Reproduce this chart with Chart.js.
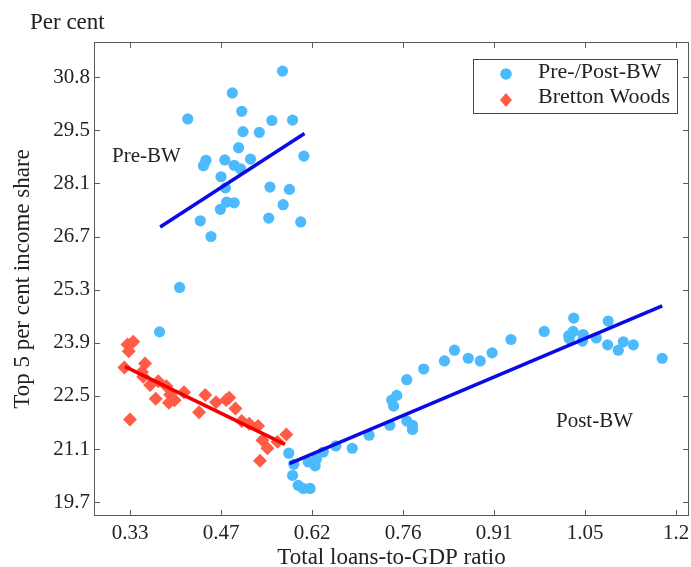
<!DOCTYPE html>
<html>
<head>
<meta charset="utf-8">
<script src="https://cdn.jsdelivr.net/npm/chart.js@4.4.1/dist/chart.umd.min.js"></script>
<style>
  html, body { margin: 0; padding: 0; background: #fff; }
  #wrap { width: 691px; height: 567px; position: relative; }
</style>
</head>
<body>
<div id="wrap"><canvas id="chart"></canvas></div>
<script>
// Pre-Bretton Woods years (upper cluster)
const preX = [0.573, 0.493, 0.422, 0.508, 0.556, 0.589, 0.510, 0.536, 0.503, 0.451,
              0.447, 0.481, 0.496, 0.506, 0.522, 0.607, 0.475, 0.482, 0.553, 0.584,
              0.484, 0.496, 0.474, 0.574, 0.442, 0.551, 0.602, 0.459, 0.409, 0.377];
const preY = [30.96, 30.39, 29.71, 29.91, 29.67, 29.68, 29.38, 29.36, 28.96, 28.63,
              28.49, 28.64, 28.50, 28.41, 28.66, 28.74, 28.20, 27.91, 27.93, 27.87,
              27.54, 27.52, 27.35, 27.47, 27.05, 27.12, 27.02, 26.64, 25.31, 24.15];

// Post-Bretton Woods years
const postX = [0.583, 0.591, 0.589, 0.598, 0.606, 0.617, 0.614, 0.625, 0.627, 0.638,
               0.658, 0.684, 0.711, 0.744, 0.750, 0.747, 0.755, 0.771, 0.780, 0.780,
               0.771, 0.798, 0.831, 0.847, 0.869, 0.888, 0.907, 0.937, 0.990, 1.029,
               1.030, 1.036, 1.037, 1.052, 1.051, 1.073, 1.092, 1.091, 1.108, 1.116,
               1.132, 1.178];
const postY = [20.98, 20.69, 20.40, 20.14, 20.06, 20.06, 20.75, 20.65, 20.82, 21.01,
               21.17, 21.11, 21.45, 21.71, 22.21, 22.37, 22.49, 21.82, 21.71, 21.60,
               22.90, 23.18, 23.39, 23.67, 23.46, 23.39, 23.60, 23.95, 24.16, 24.05,
               23.97, 24.16, 24.51, 24.08, 23.91, 23.99, 24.43, 23.81, 23.67, 23.89,
               23.81, 23.46];

// Bretton Woods years
const bwX = [0.326, 0.335, 0.328, 0.321, 0.354, 0.349, 0.362, 0.375, 0.371, 0.388,
             0.392, 0.401, 0.416, 0.330, 0.440, 0.450, 0.467, 0.483, 0.488, 0.498,
             0.508, 0.520, 0.534, 0.541, 0.549, 0.537, 0.565, 0.579, 0.351, 0.394];
const bwY = [23.82, 23.89, 23.64, 23.22, 23.32, 23.10, 22.76, 22.86, 22.40, 22.73,
             22.30, 22.36, 22.57, 21.86, 22.05, 22.50, 22.31, 22.37, 22.43, 22.15,
             21.82, 21.75, 21.69, 21.32, 21.11, 20.78, 21.28, 21.47, 22.98, 22.51];

// fitted lines (end points)
const preFitX = [0.378, 0.608];
const preFitY = [26.89, 29.33];
const bwFitX = [0.322, 0.577];
const bwFitY = [23.24, 21.21];
const postFitX = [0.584, 1.178];
const postFitY = [20.71, 24.83];

// axis ticks
const xTickValues = [0.33, 0.475, 0.62, 0.765, 0.91, 1.055, 1.2];
const xTickLabels = ['0.33', '0.47', '0.62', '0.76', '0.91', '1.05', '1.2'];
const yTickValues = [19.7, 21.0875, 22.475, 23.8625, 25.25, 26.6375, 28.025, 29.4125, 30.8];
const yTickLabels = ['19.7', '21.1', '22.5', '23.9', '25.3', '26.7', '28.1', '29.5', '30.8'];

const seriesNames = ['Pre-/Post-BW', 'Bretton Woods'];

const SERIF = '"Liberation Serif", "Times New Roman", serif';
const BLUE_PT = '#4dbafd';
const RED_PT = '#ff5b45';

const pairs = (xs, ys) => xs.map((x, i) => ({ x: x, y: ys[i] }));

// frame, inside ticks, legend and text labels
const decor = {
  id: 'decor',
  afterDatasetsDraw(chart) {
    const ctx = chart.ctx;
    const a = chart.chartArea;
    const xs = chart.scales.x, ys = chart.scales.y;
    ctx.save();
    ctx.strokeStyle = '#5a5a5a';
    ctx.lineWidth = 1;
    ctx.strokeRect(a.left + 0.5, a.top + 0.5, a.right - a.left - 1, a.bottom - a.top - 1);
    ctx.beginPath();
    xTickValues.forEach(v => {
      const px = Math.round(xs.getPixelForValue(v)) + 0.5;
      ctx.moveTo(px, a.bottom); ctx.lineTo(px, a.bottom - 6);
      ctx.moveTo(px, a.top); ctx.lineTo(px, a.top + 6);
    });
    yTickValues.forEach(v => {
      const py = Math.round(ys.getPixelForValue(v)) + 0.5;
      ctx.moveTo(a.left, py); ctx.lineTo(a.left + 6, py);
      ctx.moveTo(a.right, py); ctx.lineTo(a.right - 6, py);
    });
    ctx.stroke();

    // legend box
    const lx = 473, ly = 59, lw = 204, lh = 54;
    ctx.fillStyle = '#fff';
    ctx.fillRect(lx, ly, lw, lh);
    ctx.strokeStyle = '#444';
    ctx.strokeRect(lx + 0.5, ly + 0.5, lw, lh);
    ctx.fillStyle = BLUE_PT;
    ctx.beginPath(); ctx.arc(506, 74, 5.8, 0, Math.PI * 2); ctx.fill();
    ctx.fillStyle = RED_PT;
    ctx.beginPath();
    ctx.moveTo(506, 93); ctx.lineTo(512, 100); ctx.lineTo(506, 107); ctx.lineTo(500, 100);
    ctx.closePath(); ctx.fill();

    ctx.fillStyle = '#222';
    ctx.font = '22px ' + SERIF;
    ctx.textBaseline = 'alphabetic';
    ctx.textAlign = 'left';
    ctx.fillText(seriesNames[0], 538, 78);
    ctx.fillText(seriesNames[1], 538, 103);

    // annotations
    ctx.font = '21px ' + SERIF;
    ctx.fillText('Pre-BW', 112, 162);
    ctx.fillText('Post-BW', 556, 427);
    ctx.font = '23px ' + SERIF;
    ctx.fillText('Per cent', 30, 29);
    ctx.restore();
  }
};

const ctx = document.getElementById('chart').getContext('2d');
new Chart(ctx, {
  type: 'scatter',
  data: {
    datasets: [
      {
        type: 'line', label: 'pre fit', data: pairs(preFitX, preFitY),
        borderColor: '#0a0ae6', borderWidth: 3.5, pointRadius: 0, fill: false
      },
      {
        type: 'line', label: 'bw fit', data: pairs(bwFitX, bwFitY),
        borderColor: '#f20000', borderWidth: 3.5, pointRadius: 0, fill: false
      },
      {
        type: 'line', label: 'post fit', data: pairs(postFitX, postFitY),
        borderColor: '#0a0ae6', borderWidth: 3.5, pointRadius: 0, fill: false
      },
      {
        label: seriesNames[0],
        data: pairs(preX.concat(postX), preY.concat(postY)),
        pointStyle: 'circle', pointRadius: 5.6, borderWidth: 0,
        backgroundColor: BLUE_PT, borderColor: BLUE_PT
      },
      {
        label: seriesNames[1],
        data: pairs(bwX, bwY),
        pointStyle: 'rectRot', pointRadius: 7, borderWidth: 0,
        backgroundColor: RED_PT, borderColor: RED_PT
      }
    ]
  },
  options: {
    responsive: true,
    maintainAspectRatio: false,
    animation: false,
    layout: { autoPadding: false, padding: { top: 42, right: 2, left: 0, bottom: 0 } },
    plugins: {
      legend: { display: false },
      tooltip: { enabled: false }
    },
    scales: {
      x: {
        type: 'linear', min: 0.2726, max: 1.2207,
        grid: { display: false, drawTicks: false },
        border: { display: false },
        afterBuildTicks: s => { s.ticks = xTickValues.map(v => ({ value: v })); },
        afterFit: s => { s.height = 51; s.paddingLeft = 0; s.paddingRight = 0; },
        ticks: {
          callback: (v, i) => xTickLabels[i],
          font: { family: SERIF, size: 21 }, color: '#222', padding: 5, maxRotation: 0
        },
        title: {
          display: true, text: 'Total loans-to-GDP ratio',
          font: { family: SERIF, size: 23, lineHeight: 0.8 }, color: '#222',
          padding: { top: 0, bottom: 0 }
        }
      },
      y: {
        type: 'linear', min: 19.34, max: 31.72,
        grid: { display: false, drawTicks: false },
        border: { display: false },
        afterBuildTicks: s => { s.ticks = yTickValues.map(v => ({ value: v })); },
        afterFit: s => { s.width = 94; s.paddingTop = 0; s.paddingBottom = 0; },
        ticks: {
          callback: (v, i) => yTickLabels[i],
          font: { family: SERIF, size: 21 }, color: '#222', padding: 4
        },
        title: {
          display: true, text: 'Top 5 per cent income share',
          font: { family: SERIF, size: 23, lineHeight: 0.8 }, color: '#222',
          padding: { top: 14, bottom: 0 }
        }
      }
    }
  },
  plugins: [decor]
});
</script>
</body>
</html>
